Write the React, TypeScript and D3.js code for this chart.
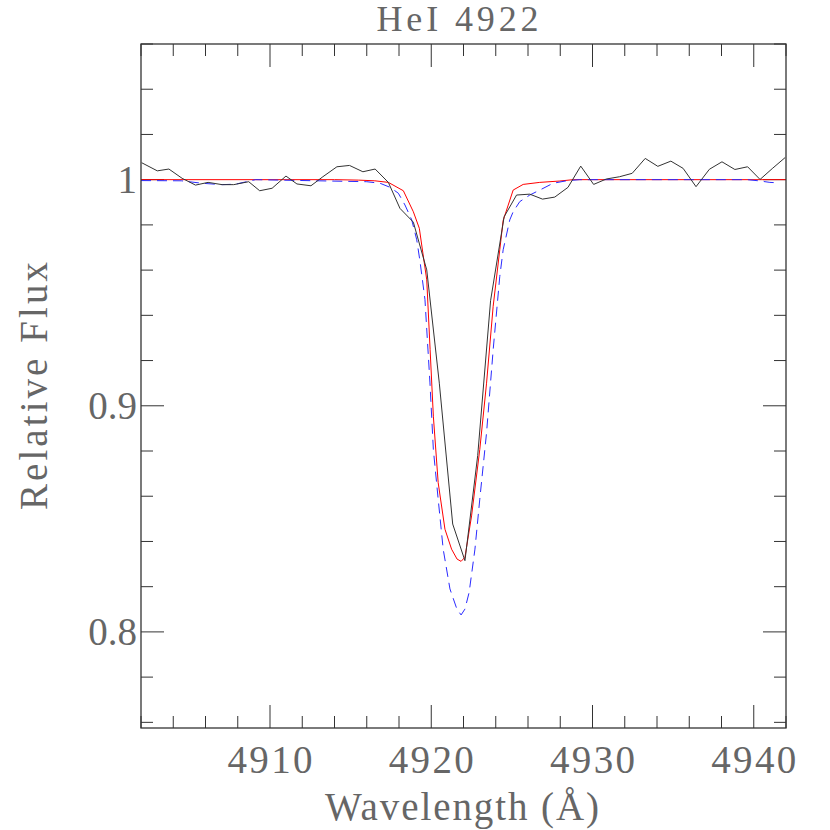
import React from "react";
import * as d3 from "d3";

// observed spectrum (black)
const obsWave = [4902.04, 4903.01, 4903.73, 4904.55, 4905.38, 4906.16, 4907.03, 4907.75, 4908.68, 4909.36, 4910.13, 4910.99, 4911.67, 4912.54, 4913.28, 4914.15, 4914.93, 4915.76, 4916.52, 4917.34, 4918.06, 4918.89, 4919.72, 4920.5, 4921.33, 4922.09, 4922.88, 4923.68, 4924.52, 4925.29, 4926.11, 4926.9, 4927.66, 4928.48, 4929.27, 4930.07, 4930.86, 4931.68, 4932.46, 4933.27, 4934.05, 4934.86, 4935.62, 4936.42, 4937.25, 4938.03, 4938.83, 4939.62, 4940.39, 4941.18, 4941.95];
const obsFlux = [1.0075, 1.0039, 1.0047, 1.0006, 0.9976, 0.9988, 0.9978, 0.9978, 0.9991, 0.9951, 0.9962, 1.0016, 0.9981, 0.9973, 1.0013, 1.0057, 1.0063, 1.0035, 1.0047, 0.9988, 0.9873, 0.9812, 0.9601, 0.91, 0.8477, 0.8315, 0.878, 0.9465, 0.9836, 0.9932, 0.9936, 0.9914, 0.9923, 0.9966, 1.006, 0.9979, 1.0003, 1.0013, 1.0028, 1.0094, 1.0059, 1.0082, 1.005, 0.9969, 1.0046, 1.0079, 1.0045, 1.0057, 1.0001, 1.0051, 1.0098];

// model 1 (red, solid)
const redWave = [4902, 4914, 4915.5, 4916.5, 4917.34, 4918.27, 4918.89, 4919.26, 4919.72, 4919.93, 4920.13, 4920.43, 4920.85, 4921.26, 4921.6, 4921.85, 4922.09, 4922.5, 4923.01, 4923.43, 4923.84, 4924.25, 4924.46, 4925.08, 4925.7, 4926.73, 4927.97, 4928.8, 4942];
const redFlux = [1.0, 1.0, 0.9998, 0.9995, 0.9988, 0.9951, 0.9858, 0.9785, 0.9557, 0.9248, 0.8954, 0.866, 0.8454, 0.8366, 0.8322, 0.8312, 0.833, 0.8513, 0.8807, 0.91, 0.944, 0.969, 0.982, 0.9954, 0.9979, 0.9988, 0.9994, 1.0, 1.0];

// model 2 (blue, dashed)
const blueWave = [4902, 4904.5, 4905.8, 4907.03, 4907.85, 4908.68, 4909.1, 4916.0, 4916.83, 4917.45, 4917.96, 4918.37, 4918.79, 4919.1, 4919.3, 4919.61, 4919.92, 4920.13, 4920.43, 4920.74, 4921.16, 4921.59, 4921.85, 4922.09, 4922.35, 4922.71, 4923.01, 4923.43, 4923.84, 4924.25, 4924.46, 4924.87, 4925.08, 4925.49, 4926.11, 4926.73, 4927.55, 4928.38, 4929.2, 4939.6, 4940.3, 4941.0, 4941.5];
const blueFlux = [0.9996, 0.9995, 0.9984, 0.9978, 0.998, 0.9993, 1.0, 0.9991, 0.9984, 0.9966, 0.994, 0.9888, 0.9822, 0.9734, 0.964, 0.947, 0.9101, 0.8807, 0.8587, 0.8366, 0.819, 0.8101, 0.8075, 0.8101, 0.8175, 0.8366, 0.8587, 0.8881, 0.9248, 0.9572, 0.969, 0.9822, 0.9858, 0.9903, 0.9932, 0.9954, 0.9984, 0.9995, 1.0, 1.0, 0.9995, 0.9988, 0.9986];

const xMajor = [4910, 4920, 4930, 4940];
const yMajor = [0.8, 0.9, 1];
const yLabels = ["0.8", "0.9", "1"];

const W = 830, H = 830;
const left = 141, right = 786, top = 44, bottom = 728;
const FONT = "'Liberation Serif', serif";

export default function App() {
  const x = d3.scaleLinear().domain([4902, 4942]).range([left, right]);
  const y = d3.scaleLinear().domain([0.7575, 1.06]).range([bottom, top]);

  const mk = (w: number[], f: number[]) =>
    d3.line<number>().x((_, i) => x(w[i])).y((_, i) => y(f[i]))(w.map((_, i) => i)) || "";

  const xMinor = d3.range(4902, 4942.01, 2);
  const yMinor = d3.range(0.76, 1.0601, 0.02);
  const isMajX = (v: number) => xMajor.some((m) => Math.abs(m - v) < 1e-6);
  const isMajY = (v: number) => yMajor.some((m) => Math.abs(m - v) < 1e-6);

  return (
    <svg width={W} height={H} style={{ position: "absolute", left: 0, top: 0, background: "#fff" }}>
      <defs>
        <clipPath id="plot">
          <rect x={left} y={top} width={right - left} height={bottom - top} />
        </clipPath>
      </defs>

      {/* ticks */}
      <g stroke="#333" strokeWidth={1}>
        {xMinor.map((v) => {
          const len = isMajX(v) ? 23 : 12;
          return (
            <g key={"x" + v}>
              <line x1={x(v)} x2={x(v)} y1={bottom} y2={bottom - len} />
              <line x1={x(v)} x2={x(v)} y1={top} y2={top + len} />
            </g>
          );
        })}
        {yMinor.map((v) => {
          const len = isMajY(+v.toFixed(2)) ? 23 : 12;
          return (
            <g key={"y" + v}>
              <line x1={left} x2={left + len} y1={y(v)} y2={y(v)} />
              <line x1={right} x2={right - len} y1={y(v)} y2={y(v)} />
            </g>
          );
        })}
      </g>

      <g clipPath="url(#plot)" fill="none">
        <path d={mk(redWave, redFlux)} stroke="#ff0000" strokeWidth={1} />
        <path d={mk(blueWave, blueFlux)} stroke="#2a2aff" strokeWidth={1} strokeDasharray="10,6" />
        <path d={mk(obsWave, obsFlux)} stroke="#333" strokeWidth={1} />
      </g>

      <rect x={left} y={top} width={right - left} height={bottom - top} fill="none" stroke="#333" strokeWidth={1.3} />

      {/* labels */}
      <g fontFamily={FONT} fill="#666" fontSize={39}>
        <text x={(left + right) / 2 - 6} y={31} fontSize={36} textAnchor="middle" textLength={162} lengthAdjust="spacing">HeI 4922</text>
        {xMajor.map((v) => (
          <text key={v} x={x(v)} y={773} textAnchor="middle" textLength={85} lengthAdjust="spacing">{v}</text>
        ))}
        {yMajor.map((v, i) => (
          <text key={v} x={137} y={y(v) + 13} textAnchor="end">{yLabels[i]}</text>
        ))}
        <text x={462} y={820} textAnchor="middle" textLength={274} lengthAdjust="spacing">Wavelength (Å)</text>
        <text transform={`translate(47,386) rotate(-90)`} textAnchor="middle" textLength={248} lengthAdjust="spacing">Relative Flux</text>
      </g>
    </svg>
  );
}
